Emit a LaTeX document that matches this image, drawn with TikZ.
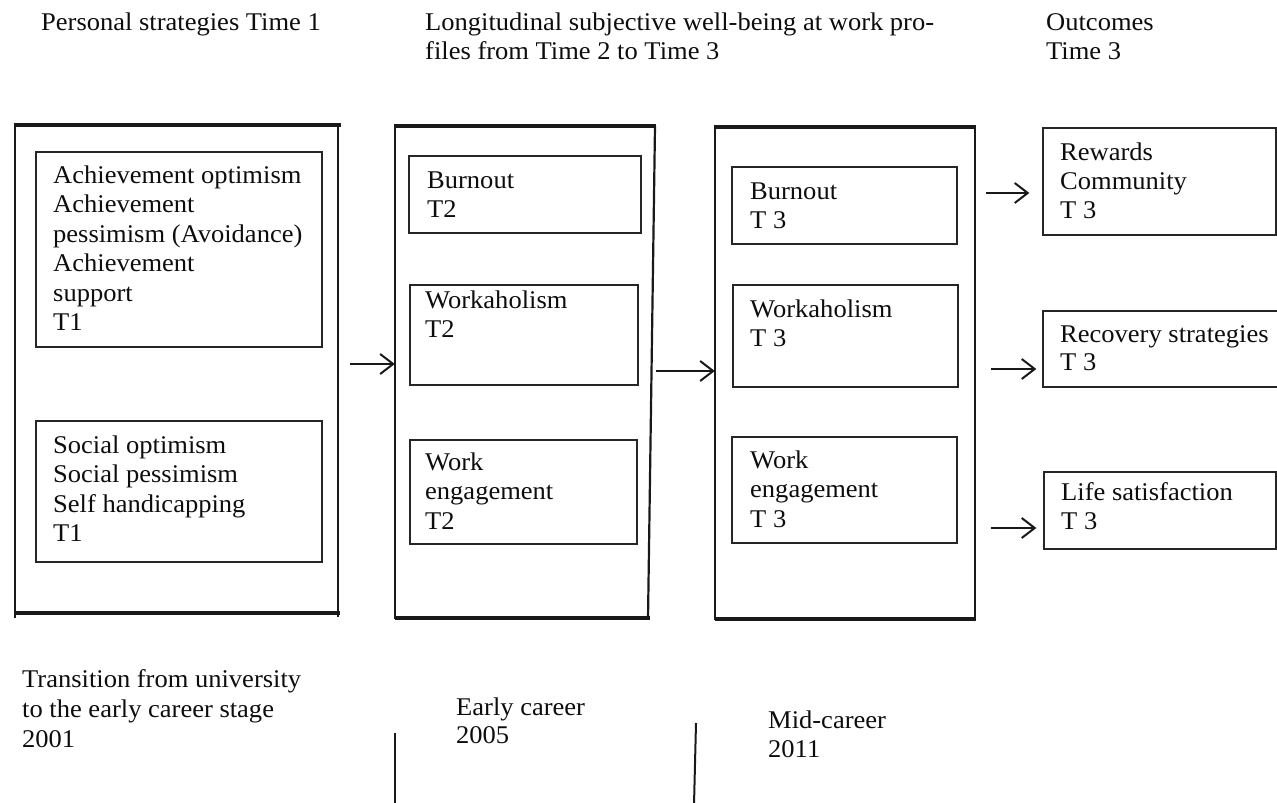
\documentclass[tikz,border=0pt]{standalone}
\usepackage{fontspec}
\setmainfont{Liberation Serif}[FakeStretch=1.04]
\usetikzlibrary{arrows.meta,calc}

\newcommand\leadrule{\rule{0pt}{20pt}}

\begin{document}
\begin{tikzpicture}[x=1pt,y=-1pt,
  ink/.style={black!90},
  frameline/.style={ink,line width=2.2pt},
  frametop/.style={ink,line width=3.2pt},
  box/.style={draw=black!85,line width=1.3pt,inner sep=0pt,minimum width=#1},
  anchorbox/.style={inner sep=0pt,minimum width=#1},
  txt/.style={anchor=north west,inner sep=0pt,align=left,text=black!95,
              font=\fontsize{25.5}{29.5}\selectfont},
  arr/.style={ink,line width=2pt,-{Straight Barb[length=13pt,width=20pt,line width=2pt]}},
  tick/.style={ink,line width=2pt}]

\useasboundingbox (0,0) rectangle (1277,803);

% ---- headings ----
\node[txt] (h1) at (41,10) {\leadrule Personal strategies Time 1};
\node[txt,font=\fontsize{25.5}{29}\selectfont] (h2) at (425,10)
  {\leadrule Longitudinal subjective well-being at work pro-\\files from Time 2 to Time 3};
\node[txt,font=\fontsize{25.5}{29}\selectfont] (h3) at (1046,10) {\leadrule Outcomes\\Time 3};

% ---- column frames (anchors for the connectors) ----
\node[anchorbox=323pt,minimum height=488pt] (f1) at (176.5,369) {};
\node[anchorbox=256.5pt,minimum height=492pt] (f2) at (523.25,372) {};
\node[anchorbox=260pt,minimum height=492pt] (f3) at (845,373) {};

% left frame
\draw[frameline] (15,125) -- (15,618);
\draw[frameline] (338,125) -- (338,617);
\draw[frametop] (14,125) -- (341,125);
\draw[frametop] (15,613) -- (340,613);
% middle frame, right side leaning slightly
\draw[frameline] (395,126) -- (395,619);
\draw[frameline] (655,126) -- (648,619);
\draw[frametop] (394,126) -- (656,126);
\draw[frametop] (395,618) -- (650,618);
% right frame
\draw[frameline] (715,127) -- (715,620);
\draw[frameline] (975,127) -- (975,620);
\draw[frametop] (714,127) -- (976,127);
\draw[frametop] (715,619) -- (976,619);

% ---- Time 1 boxes ----
\node[box=286pt,minimum height=195pt] (L1) at (179,249.5) {};
\node[box=286pt,minimum height=141pt] (L2) at (179,491.5) {};
\node[txt] (L1t) at (53,163)
  {\leadrule Achievement optimism\\Achievement\\pessimism (Avoidance)\\Achievement\\support\\T1};
\node[txt] (L2t) at (53,433)
  {\leadrule Social optimism\\Social pessimism\\Self handicapping\\T1};

% ---- Time 2 boxes ----
\node[box=232pt,minimum height=77pt] (M1) at (525,194.5) {};
\node[box=228pt,minimum height=100pt] (M2) at (524,335) {};
\node[box=227pt,minimum height=104pt] (M3) at (523.5,492) {};
\node[txt] (M1t) at (427,168) {\leadrule Burnout\\T2};
\node[txt] (M2t) at (425,288) {\leadrule Workaholism\\T2};
\node[txt] (M3t) at (425,450) {\leadrule Work\\engagement\\T2};

% ---- Time 3 boxes ----
\node[box=225pt,minimum height=77pt] (R1) at (844.5,205.5) {};
\node[box=225pt,minimum height=102pt] (R2) at (845.5,336) {};
\node[box=225pt,minimum height=106pt] (R3) at (844.5,490) {};
\node[txt] (R1t) at (750,179) {\leadrule Burnout\\T 3};
\node[txt] (R2t) at (750,297) {\leadrule Workaholism\\T 3};
\node[txt] (R3t) at (750,448) {\leadrule Work\\engagement\\T 3};

% ---- outcome boxes ----
\node[box=233pt,minimum height=107pt] (O1) at (1159.5,181.5) {};
\node[box=240pt,minimum height=76pt] (O2) at (1163,349) {};
\node[box=232pt,minimum height=77pt] (O3) at (1160,510.5) {};
\node[txt,font=\fontsize{25.5}{29}\selectfont] (O1t) at (1060,140) {\leadrule Rewards\\Community\\T 3};
\node[txt,font=\fontsize{25.5}{28}\selectfont] (O2t) at (1060,322) {\leadrule Recovery strategies\\T 3};
\node[txt,font=\fontsize{25.5}{29}\selectfont] (O3t) at (1061,480) {\leadrule Life satisfaction\\T 3};

% ---- connectors ----
\draw[arr] ($(f1.east)+(12,-5)$) coordinate (a1) -- (a1 -| f2.west);
\draw[arr] ($(f2.east)+(4,-1)$) coordinate (a2) -- (a2 -| f3.west);
\draw[arr,shorten >=13pt] ($(f3.east |- O1.west)+(11,11.5)$) coordinate (a3) -- (a3 -| O1.west);
\draw[arr,shorten >=6pt] ($(f3.east |- O2.west)+(16,20)$) coordinate (a4) -- (a4 -| O2.west);
\draw[arr,shorten >=7pt] ($(f3.east |- O3.west)+(16,17.5)$) coordinate (a5) -- (a5 -| O3.west);

% ---- career stages ----
\node[txt,font=\fontsize{25.5}{30}\selectfont] (s1) at (22,667)
  {\leadrule Transition from university\\to the early career stage\\2001};
\node[txt,font=\fontsize{25.5}{28.5}\selectfont] (s2) at (456,695) {\leadrule Early career\\2005};
\node[txt,font=\fontsize{25.5}{29}\selectfont] (s3) at (768,708) {\leadrule Mid-career\\2011};
\coordinate (t1a) at (395,733);
\coordinate (t1b) at (395,805);
\coordinate (t2a) at (696,723);
\coordinate (t2b) at (694,805);
\draw[tick] (t1a) -- (t1b);
\draw[tick] (t2a) -- (t2b);
\end{tikzpicture}
\end{document}
